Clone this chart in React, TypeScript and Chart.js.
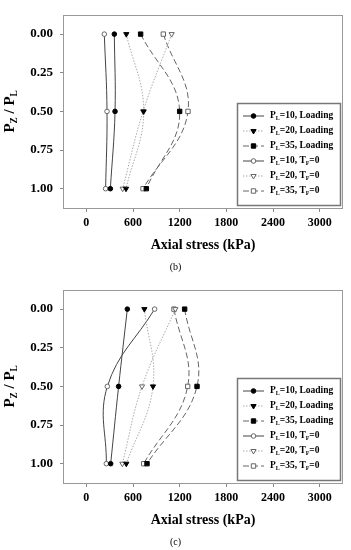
import React, { useEffect, useRef } from "react";
import { Chart, registerables } from "chart.js";
Chart.register(...registerables);

const FONT = "'Liberation Serif', 'Times New Roman', serif";

// ---- data ----
const stressTicks = [0, 600, 1200, 1800, 2400, 3000];
const depthTicks = [0, 0.25, 0.5, 0.75, 1];
const depthLevels = [0, 0.5, 1];

// panel (b)
const bPL10Loading = [360, 369, 309];
const bPL20Loading = [514, 737, 510];
const bPL35Loading = [698, 1200, 771];
const bPL10TF0 = [231, 266, 248];
const bPL20TF0 = [1097, 730, 467];
const bPL35TF0 = [990, 1307, 729];

// panel (c)
const cPL10Loading = [527, 415, 313];
const cPL20Loading = [746, 857, 514];
const cPL35Loading = [1264, 1423, 780];
const cPL10TF0 = [878, 270, 257];
const cPL20TF0 = [1144, 716, 463];
const cPL35TF0 = [1127, 1303, 737];

const seriesNames = ["10", "20", "35", "10", "20", "35"];
const seriesKinds = ["Loading", "Loading", "Loading", "TF0", "TF0", "TF0"];

// ---- styles ----
type Style = {
  color: string;
  dash: number[];
  marker: "circle" | "triangle" | "rect";
  filled: boolean;
  radius: number;
};
const styles: Style[] = [
  { color: "#444", dash: [], marker: "circle", filled: true, radius: 2.3 },
  { color: "#aaa", dash: [1.5, 1.5], marker: "triangle", filled: true, radius: 3.0 },
  { color: "#666", dash: [6, 3], marker: "rect", filled: true, radius: 3.1 },
  { color: "#444", dash: [], marker: "circle", filled: false, radius: 2.3 },
  { color: "#aaa", dash: [1.5, 1.5], marker: "triangle", filled: false, radius: 3.0 },
  { color: "#666", dash: [6, 3], marker: "rect", filled: false, radius: 3.1 },
];

function drawMarker(ctx: CanvasRenderingContext2D, x: number, y: number, s: Style) {
  ctx.save();
  ctx.setLineDash([]);
  ctx.lineWidth = 1;
  ctx.fillStyle = s.filled ? "#000" : "#fff";
  ctx.strokeStyle = s.filled ? "#000" : "#666";
  ctx.beginPath();
  const r = s.radius;
  if (s.marker === "circle") {
    ctx.arc(x, y, r, 0, Math.PI * 2);
  } else if (s.marker === "triangle") {
    ctx.moveTo(x, y + r);
    ctx.lineTo(x - r * 0.866, y - r / 2);
    ctx.lineTo(x + r * 0.866, y - r / 2);
    ctx.closePath();
  } else {
    const h = r * Math.SQRT1_2;
    ctx.rect(x - h, y - h, 2 * h, 2 * h);
  }
  ctx.fill();
  ctx.stroke();
  ctx.restore();
}

type Part = [string, boolean];
function measureParts(ctx: CanvasRenderingContext2D, parts: Part[], size: number) {
  let w = 0;
  for (const [t, sub] of parts) {
    ctx.font = `bold ${sub ? size * 0.62 : size}px ${FONT}`;
    w += ctx.measureText(t).width;
  }
  return w;
}
function drawParts(ctx: CanvasRenderingContext2D, x: number, y: number, parts: Part[], size: number) {
  ctx.textBaseline = "middle";
  ctx.textAlign = "left";
  for (const [t, sub] of parts) {
    ctx.font = `bold ${sub ? size * 0.62 : size}px ${FONT}`;
    ctx.fillText(t, x, sub ? y + size * 0.28 : y);
    x += ctx.measureText(t).width;
  }
}

function legendParts(i: number): Part[] {
  if (seriesKinds[i] === "Loading") {
    return [["P", false], ["L", true], ["=" + seriesNames[i] + ", Loading", false]];
  }
  return [["P", false], ["L", true], ["=" + seriesNames[i] + ", T", false], ["F", true], ["=0", false]];
}

const decorPlugin = {
  id: "decor",
  afterDatasetsDraw(chart: any) {
    const ctx: CanvasRenderingContext2D = chart.ctx;
    const a = chart.chartArea;
    ctx.save();
    // frame
    ctx.strokeStyle = "#999";
    ctx.lineWidth = 1;
    ctx.setLineDash([]);
    ctx.strokeRect(Math.round(a.left) + 0.5, Math.round(a.top) + 0.5, Math.round(a.right - a.left) - 1, Math.round(a.bottom - a.top));

    // legend
    const w = 103;
    const h = 102;
    const x0 = Math.round(a.right - 3 - w);
    const y0 = Math.round(a.bottom - 3 - h);
    ctx.fillStyle = "#fff";
    ctx.fillRect(x0, y0, w, h);
    ctx.strokeStyle = "#777";
    ctx.lineWidth = 1.5;
    ctx.strokeRect(x0 + 0.5, y0 + 0.5, w, h);
    for (let i = 0; i < styles.length; i++) {
      const s = styles[i];
      const cy = y0 + 13 + i * 15;
      ctx.save();
      ctx.strokeStyle = s.color;
      ctx.lineWidth = 1;
      ctx.setLineDash(s.dash);
      ctx.beginPath();
      ctx.moveTo(x0 + 6, cy);
      ctx.lineTo(x0 + 27, cy);
      ctx.stroke();
      ctx.restore();
      drawMarker(ctx, x0 + 16.5, cy, s);
      ctx.fillStyle = "#000";
      drawParts(ctx, x0 + 33, cy, legendParts(i), 9.5);
    }

    // y-axis title
    const yParts: Part[] = [["P", false], ["Z", true], [" / P", false], ["L", true]];
    const size = 15;
    const tw = measureParts(ctx, yParts, size);
    ctx.translate(10, (a.top + a.bottom) / 2);
    ctx.rotate(-Math.PI / 2);
    ctx.fillStyle = "#000";
    drawParts(ctx, -tw / 2, 0, yParts, size);
    ctx.restore();
  },
};

function PanelChart({ values, top }: { values: number[][]; top: number }) {
  const ref = useRef<HTMLCanvasElement>(null);
  useEffect(() => {
    const datasets = values.map((vals, i) => {
      const s = styles[i];
      return {
        label: "PL=" + seriesNames[i] + " " + seriesKinds[i],
        data: vals.map((v, k) => ({ x: v, y: depthLevels[k] })),
        showLine: true,
        tension: 0.4,
        borderColor: s.color,
        borderWidth: 1,
        borderDash: s.dash,
        pointStyle: s.marker,
        pointRotation: s.marker === "triangle" ? 180 : 0,
        pointRadius: s.radius,
        pointBackgroundColor: s.filled ? "#000" : "#fff",
        pointBorderColor: s.filled ? "#000" : "#666",
        pointBorderWidth: 1,
      };
    });
    const chart = new Chart(ref.current!, {
      type: "scatter",
      data: { datasets: datasets as any },
      options: {
        animation: false,
        responsive: false,
        layout: { padding: { top: 6, right: 8, left: 0, bottom: 0 } },
        plugins: { legend: { display: false }, tooltip: { enabled: false } },
        scales: {
          x: {
            type: "linear",
            min: -300,
            max: 3300,
            afterBuildTicks: (s: any) => {
              s.ticks = stressTicks.map((v) => ({ value: v }));
            },
            afterFit: (s: any) => {
              s.height = 67;
            },
            border: { display: false },
            grid: { drawOnChartArea: false, tickLength: 4, color: "#888" },
            ticks: {
              color: "#000",
              padding: 4,
              maxRotation: 0,
              font: { family: FONT, size: 12, weight: "bold" },
              callback: (v: any) => String(v),
            },
            title: {
              display: true,
              text: "Axial stress (kPa)",
              color: "#000",
              font: { family: FONT, size: 14, weight: "bold" },
              padding: { top: 0, bottom: 21 },
            },
          },
          y: {
            type: "linear",
            min: -0.125,
            max: 1.125,
            reverse: true,
            afterBuildTicks: (s: any) => {
              s.ticks = depthTicks.map((v) => ({ value: v }));
            },
            afterFit: (s: any) => {
              s.width = 63;
            },
            border: { display: false },
            grid: { drawOnChartArea: false, tickLength: 3, color: "#888" },
            ticks: {
              color: "#000",
              padding: 7,
              font: { family: FONT, size: 13, weight: "bold" },
              callback: (v: any) => Number(v).toFixed(2),
            },
            title: { display: false },
          },
        },
      } as any,
      plugins: [decorPlugin],
    });
    return () => chart.destroy();
  }, []);
  return (
    <canvas
      ref={ref}
      width={351}
      height={275}
      style={{ position: "absolute", left: 0, top, width: 351, height: 275 }}
    />
  );
}

const captionStyle: React.CSSProperties = {
  position: "absolute",
  left: 0,
  width: 351,
  textAlign: "center",
  fontFamily: FONT,
  fontSize: 10,
  lineHeight: "12px",
  color: "#000",
};

export default function App() {
  return (
    <div style={{ position: "absolute", left: 0, top: 0, width: 351, height: 550, background: "#fff", overflow: "hidden" }}>
      <PanelChart values={[bPL10Loading, bPL20Loading, bPL35Loading, bPL10TF0, bPL20TF0, bPL35TF0]} top={0} />
      <div style={{ ...captionStyle, top: 261 }}>(b)</div>
      <PanelChart values={[cPL10Loading, cPL20Loading, cPL35Loading, cPL10TF0, cPL20TF0, cPL35TF0]} top={275} />
      <div style={{ ...captionStyle, top: 536 }}>(c)</div>
    </div>
  );
}
